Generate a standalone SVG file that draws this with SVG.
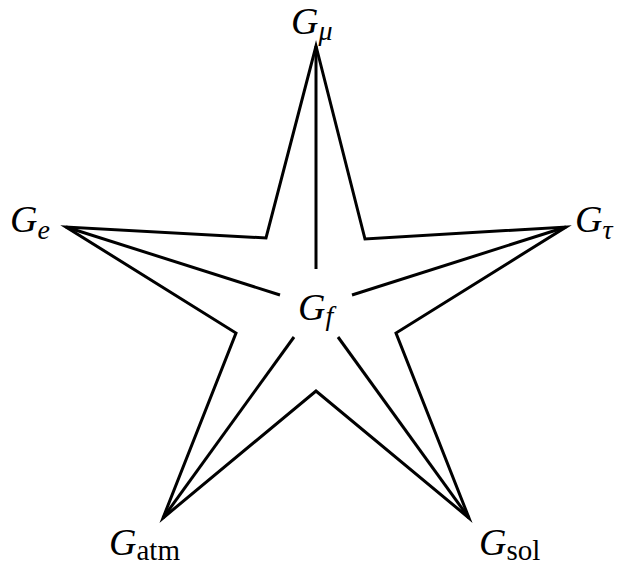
<svg xmlns="http://www.w3.org/2000/svg" width="622" height="567" viewBox="0 0 622 567">
<style>
.ln{fill:none;stroke:#000;stroke-width:3;stroke-linejoin:miter;stroke-miterlimit:20}
.lb{font-family:"Liberation Serif","Times New Roman",serif;font-size:38px;fill:#000}
.g{font-style:italic}
.s{font-size:29px}
.si{font-size:28px;font-style:italic}
</style>
<rect width="622" height="567" fill="#fff"/>
<g id="connectors">
<polygon class="ln" points="316,46 365,239 566,227 396,333 469,518 316,391 163,518 236,333 66,227 266,238"/>
<line class="ln" x1="316" y1="46" x2="316" y2="269"/>
<line class="ln" x1="66" y1="227" x2="280" y2="295"/>
<line class="ln" x1="566" y1="227" x2="352" y2="295"/>
<line class="ln" x1="163" y1="518" x2="294" y2="337"/>
<line class="ln" x1="469" y1="518" x2="338" y2="337"/>
</g>
<g id="node-mu"><text class="lb" x="291" y="34"><tspan class="g">G</tspan><tspan class="si" dy="6">μ</tspan></text></g>
<g id="node-e"><text class="lb" x="10" y="232"><tspan class="g">G</tspan><tspan class="si" dy="7">e</tspan></text></g>
<g id="node-tau"><text class="lb" x="575" y="232"><tspan class="g">G</tspan><tspan class="si" dy="7">τ</tspan></text></g>
<g id="node-f"><text class="lb" x="298" y="320"><tspan class="g">G</tspan><tspan class="si" dy="5">f</tspan></text></g>
<g id="node-atm"><text class="lb" x="109" y="555"><tspan class="g">G</tspan><tspan class="s" dy="5">atm</tspan></text></g>
<g id="node-sol"><text class="lb" x="479" y="555"><tspan class="g">G</tspan><tspan class="s" dy="5">sol</tspan></text></g>
</svg>
